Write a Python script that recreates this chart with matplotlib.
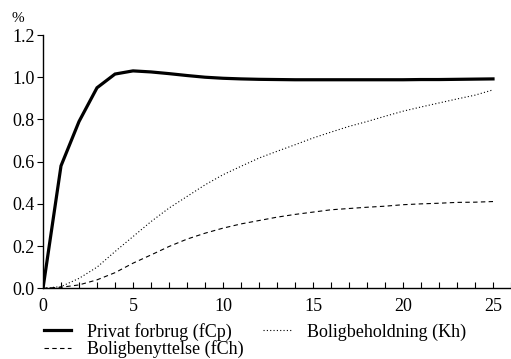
import matplotlib
matplotlib.use("Agg")
import matplotlib.pyplot as plt
from matplotlib.ticker import MultipleLocator, FormatStrFormatter

years = list(range(0, 26))
fCp = [0.0, 0.58, 0.79, 0.95, 1.015, 1.03, 1.025, 1.017, 1.008, 1.0, 0.995, 0.992,
       0.99, 0.989, 0.988, 0.988, 0.988, 0.988, 0.988, 0.988, 0.988, 0.989, 0.989,
       0.99, 0.991, 0.992]
Kh = [0.0, 0.008, 0.047, 0.10, 0.174, 0.245, 0.316, 0.38, 0.435, 0.49, 0.538, 0.578,
      0.617, 0.649, 0.68, 0.712, 0.74, 0.767, 0.79, 0.815, 0.839, 0.859, 0.878,
      0.897, 0.915, 0.94]
fCh = [0.0, 0.005, 0.016, 0.04, 0.074, 0.119, 0.158, 0.198, 0.233, 0.261, 0.285,
       0.305, 0.321, 0.337, 0.35, 0.361, 0.372, 0.378, 0.384, 0.389, 0.396, 0.40,
       0.403, 0.407, 0.408, 0.411]

plt.rcParams['font.family'] = ['Liberation Serif', 'DejaVu Serif']
fs = 13

fig = plt.figure(figsize=(5.11, 3.59), dpi=100)
ax = fig.add_axes([43/511, (359-288.3)/359, (511-43)/511, (288.3-35)/359])

l1, = ax.plot(years, fCp, color='black', lw=2.3, solid_joinstyle='miter', label='Privat forbrug (fCp)')
l2, = ax.plot(years, fCh, color='black', lw=0.8, linestyle=(0, (4, 3)), label='Boligbenyttelse (fCh)')
l3, = ax.plot(years, Kh, color='black', lw=0.8, linestyle=(0, (1, 2)), label='Boligbeholdning (Kh)')

ax.set_xlim(0, 26)
ax.set_ylim(0, 1.2)
ax.spines['top'].set_visible(False)
ax.spines['right'].set_visible(False)
ax.spines['left'].set_linewidth(1.0)
ax.spines['bottom'].set_linewidth(1.0)

ax.xaxis.set_major_locator(MultipleLocator(5))
ax.xaxis.set_minor_locator(MultipleLocator(1))
ax.yaxis.set_major_locator(MultipleLocator(0.2))
ax.yaxis.set_major_formatter(FormatStrFormatter('%.1f'))
ax.tick_params(axis='x', which='both', direction='in', length=4, width=0.8, labelsize=fs, pad=7)
ax.tick_params(axis='y', which='major', direction='out', length=4, width=0.8, labelsize=fs, pad=2)

fig.text(12/511, 1 - 18/359, '%', fontsize=fs - 2, ha='left', va='center')

fig.legend(handles=[l1, l2, l3], ncol=2, frameon=False, fontsize=fs,
           loc='upper left', bbox_to_anchor=(40/511, 1 - 319/359),
           handlelength=1.5, handletextpad=0.9, columnspacing=1.1,
           labelspacing=0.0, borderpad=0.2, borderaxespad=0)

fig.savefig('out.png', dpi=100)
